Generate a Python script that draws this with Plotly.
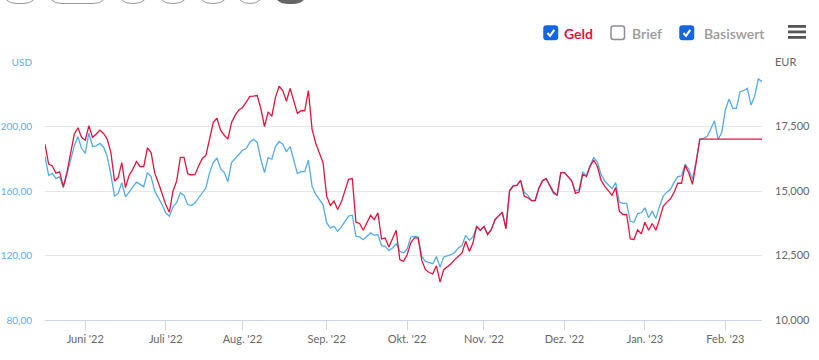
import plotly.graph_objects as go
import pandas as pd

# ---------------- data ----------------
START_DATE = "2022-05-17"

basis_usd = [
    181.4, 169.7, 171.0, 167.7, 168.9, 162.0, 170.3, 179.7, 188.0, 193.6,
    186.5, 183.4, 195.9, 187.6, 188.0, 189.5, 187.3, 181.4, 170.3, 156.8,
    158.5, 165.2, 156.4, 159.3, 162.7, 165.5, 164.1, 162.7, 171.4, 168.9,
    159.9, 155.8, 151.6, 146.5, 144.4, 150.2, 152.7, 158.9, 157.3, 151.6,
    151.0, 152.7, 155.8, 159.3, 162.0, 171.4, 177.6, 180.5, 173.9, 171.4,
    165.8, 177.6, 180.1, 182.2, 185.3, 186.3, 190.3,
    192.1, 190.1, 179.7, 171.4,
    180.7, 179.7, 187.6, 190.7, 189.0, 184.2, 187.6, 179.7, 170.8, 172.0,
    172.0, 179.2, 163.0, 157.9, 154.8,
    151.6, 140.2, 137.1, 138.1, 135.0, 137.8,
    141.2, 144.4, 145.0, 131.9, 131.5, 129.8, 131.9, 134.0, 132.5, 133.0,
    126.1, 125.7, 123.0, 124.7, 127.3, 122.6, 121.6, 124.0, 131.5, 131.9,
    131.5, 119.4, 116.3, 115.7, 114.9, 119.4, 112.8, 119.1, 119.9, 120.5,
    121.9, 124.7, 126.1, 132.5, 129.4, 131.5, 138.1, 135.6, 137.8, 133.4,
    136.1, 141.9, 144.4, 146.5, 137.1, 160.6, 163.5, 163.5, 166.6, 159.3,
    157.3, 154.1, 154.1, 162.0, 166.6, 167.7, 163.0, 158.5, 157.3, 171.4,
    171.4, 168.9, 166.2, 159.9, 161.0, 171.8, 169.7, 175.9, 180.7, 178.0,
    170.3, 166.2, 163.5, 161.4, 165.2, 153.1, 152.3, 152.3, 141.2, 140.6,
    146.0, 146.5, 149.6, 143.4, 147.5, 142.9, 150.6, 156.8, 159.3, 161.0,
    165.5, 168.9, 169.3, 176.6, 173.5, 167.2, 178.6, 192.1, 192.6, 193.8,
    198.4, 203.5, 192.1, 196.3, 210.4, 217.1, 211.3, 211.3, 221.6, 222.2,
    223.7, 213.3, 218.7, 229.5, 227.8,
]

geld_eur = [
    16.81, 16.04, 15.97, 15.69, 15.74, 15.17, 15.72, 16.43, 17.20, 17.45,
    17.08, 16.97, 17.53, 17.08, 17.20, 17.36, 17.23, 17.01, 16.50, 15.39,
    15.52, 16.10, 15.13, 15.61, 15.84, 16.14, 15.95, 15.95, 16.67, 16.49,
    15.69, 15.32, 14.93, 14.48, 14.18, 15.00, 15.39, 16.30, 16.30, 15.67,
    15.62, 15.64, 15.97, 16.26, 16.39, 17.01, 17.66, 17.82, 17.36, 17.16,
    17.01, 17.66, 17.94, 18.14, 18.24, 18.44, 18.67,
    18.68, 18.70, 18.20, 17.50,
    18.07, 17.89, 18.63, 19.06, 18.89, 18.48, 18.98, 18.48, 18.01, 18.11,
    18.11, 18.89, 17.40, 16.85, 16.43,
    16.10, 14.80, 14.44, 14.61, 14.28, 14.57,
    15.00, 15.45, 15.48, 13.79, 13.74, 13.48, 13.77, 14.06, 13.89, 14.15,
    13.14, 13.18, 12.83, 13.14, 13.48, 12.34, 12.27, 12.53, 12.99, 13.18,
    13.18, 12.31, 11.95, 11.84, 11.79, 12.10, 11.47, 11.95, 12.05, 12.18,
    12.34, 12.49, 12.60, 13.05, 12.66, 12.99, 13.63, 13.48, 13.63, 13.31,
    13.50, 13.89, 14.02, 14.18, 13.53, 15.00, 15.19, 15.22, 15.41, 14.80,
    14.74, 14.63, 14.63, 15.10, 15.39, 15.48, 15.22, 14.96, 14.83, 15.71,
    15.71, 15.56, 15.39, 14.91, 14.96, 15.65, 15.56, 15.95, 16.20, 15.95,
    15.42, 15.19, 15.00, 14.83, 15.13, 14.22, 14.09, 14.09, 13.14, 13.12,
    13.50, 13.34, 13.79, 13.48, 13.74, 13.48, 13.92, 14.41, 14.57, 14.70,
    14.96, 15.30, 15.30, 16.00, 15.69, 15.26, 16.10, 17.01, 17.01, 17.01,
    17.01, 17.01, 17.01, 17.01, 17.01, 17.01, 17.01, 17.01, 17.01, 17.01,
    17.01, 17.01, 17.01, 17.01, 17.01,
]

dates = pd.bdate_range(START_DATE, periods=len(basis_usd))

month_ticks = ["2022-06-01", "2022-07-01", "2022-08-01", "2022-09-01", "2022-10-03",
               "2022-11-01", "2022-12-01", "2023-01-02", "2023-02-01"]
month_labels = ["Juni '22", "Juli '22", "Aug. '22", "Sep. '22", "Okt. '22",
                "Nov. '22", "Dez. '22", "Jan. '23", "Feb. '23"]
usd_ticks = [80, 120, 160, 200, 240]
usd_labels = ["80,00", "120,00", "160,00", "200,00", "USD"]
eur_ticks = [10, 12.5, 15, 17.5, 20]
eur_labels = ["10,000", "12,500", "15,000", "17,500", "EUR"]

legend_items = ["Geld", "Brief", "Basiswert"]

# ---------------- layout helpers ----------------
W, H = 819, 360
L, R, T, B = 45, 57, 62, 40
PW, PH = W - L - R, H - T - B
RED = "#e3143c"
BLUE = "#55aaee"
CHECK_BLUE = "#1466e0"
FONT = "Lato, 'Open Sans', sans-serif"


def px(x):
    return (x - L) / PW


def py(y):
    return (H - B - y) / PH


def rounded_path(x0, x1, y0, y1, r, closed=True, top_open=False):
    if top_open:
        s = f"M{px(x0)},{py(y0)} L{px(x0)},{py(y1 - r)} "
        s += f"Q{px(x0)},{py(y1)} {px(x0 + r)},{py(y1)} "
        s += f"L{px(x1 - r)},{py(y1)} Q{px(x1)},{py(y1)} {px(x1)},{py(y1 - r)} "
        s += f"L{px(x1)},{py(y0)}"
        if closed:
            s += " Z"
        return s
    s = f"M{px(x0 + r)},{py(y0)} L{px(x1 - r)},{py(y0)} Q{px(x1)},{py(y0)} {px(x1)},{py(y0 + r)} "
    s += f"L{px(x1)},{py(y1 - r)} Q{px(x1)},{py(y1)} {px(x1 - r)},{py(y1)} "
    s += f"L{px(x0 + r)},{py(y1)} Q{px(x0)},{py(y1)} {px(x0)},{py(y1 - r)} "
    s += f"L{px(x0)},{py(y0 + r)} Q{px(x0)},{py(y0)} {px(x0 + r)},{py(y0)} Z"
    return s


# ---------------- figure ----------------
fig = go.Figure()
fig.add_trace(go.Scatter(x=dates, y=geld_eur, yaxis="y2", mode="lines",
                         line=dict(color=RED, width=1.3), name="Geld"))
fig.add_trace(go.Scatter(x=dates, y=basis_usd, mode="lines",
                         line=dict(color=BLUE, width=1.3), name="Basiswert"))

shapes = []
# range-selector pills cut off at the top of the page
pills = [(3, 37, False), (48, 107, False), (118, 148, False), (158, 188, False),
         (198, 228, False), (237, 263, False), (274, 307, True)]
for x0, x1, filled in pills:
    r = min(14, (x1 - x0) / 2)
    shapes.append(dict(type="path", xref="paper", yref="paper",
                       path=rounded_path(x0, x1, -30, 3.5, r, closed=filled, top_open=True),
                       line=dict(color="#666666" if filled else "#999999", width=1),
                       fillcolor="#666666" if filled else "rgba(0,0,0,0)"))

# checkboxes
for x0, checked in [(544, True), (611, False), (680, True)]:
    shapes.append(dict(type="path", xref="paper", yref="paper",
                       path=rounded_path(x0, x0 + 13.5, 26, 39.5, 2.5),
                       line=dict(color=CHECK_BLUE if checked else "#8c8c9c", width=1.5),
                       fillcolor=CHECK_BLUE if checked else "white"))
    if checked:
        shapes.append(dict(type="path", xref="paper", yref="paper",
                           path=f"M{px(x0 + 3.5)},{py(33)} L{px(x0 + 6)},{py(35.8)} L{px(x0 + 10.3)},{py(29.8)}",
                           line=dict(color="white", width=2)))

# hamburger menu
for yy in (25, 30.5, 36):
    shapes.append(dict(type="rect", xref="paper", yref="paper",
                       x0=px(788), x1=px(806), y0=py(yy), y1=py(yy + 2.8),
                       line=dict(width=0), fillcolor="#555555"))

annotations = []
for text, x0, color, weight in [(legend_items[0], 562, RED, 700),
                                (legend_items[1], 630, "#9a9a9a", 600),
                                (legend_items[2], 702, "#9a9a9a", 600)]:
    annotations.append(dict(text=text, xref="paper", yref="paper", x=px(x0), y=py(33),
                            xanchor="left", yanchor="middle", showarrow=False,
                            font=dict(family=FONT, size=14, color=color, weight=weight)))

fig.update_layout(
    width=W, height=H,
    margin=dict(l=L, r=R, t=T, b=B, autoexpand=False),
    paper_bgcolor="white", plot_bgcolor="white",
    showlegend=False,
    hovermode=False,
    font=dict(family=FONT, size=11, color="#666666"),
    xaxis=dict(type="date", range=[str(dates[0].date()), str(dates[-1].date())],
               rangebreaks=[dict(bounds=["sat", "mon"])],
               tickmode="array", tickvals=month_ticks, ticktext=month_labels,
               ticks="outside", ticklen=9, tickcolor="#ccd6eb", tickwidth=1,
               showline=True, linecolor="#ccd6eb", linewidth=1,
               showgrid=False, zeroline=False,
               tickfont=dict(family=FONT, size=11, color="#666666")),
    yaxis=dict(range=[80, 240], tickmode="array", tickvals=usd_ticks, ticktext=usd_labels,
               showgrid=True, gridcolor="#e6e6e6", gridwidth=1, zeroline=False,
               showline=False, ticks="", ticklabelstandoff=12,
               tickfont=dict(family=FONT, size=10, color="#5aaeee")),
    yaxis2=dict(range=[10, 20], overlaying="y", side="right", tickmode="array",
                tickvals=eur_ticks, ticktext=eur_labels, showgrid=False, zeroline=False,
                showline=False, ticks="", ticklabelstandoff=12,
                tickfont=dict(family=FONT, size=11, color="#666666")),
    shapes=shapes,
    annotations=annotations,
)

fig.write_html("out.html",
               config={"displayModeBar": False},
               post_script="document.body.style.margin='0';document.body.style.padding='0';")
